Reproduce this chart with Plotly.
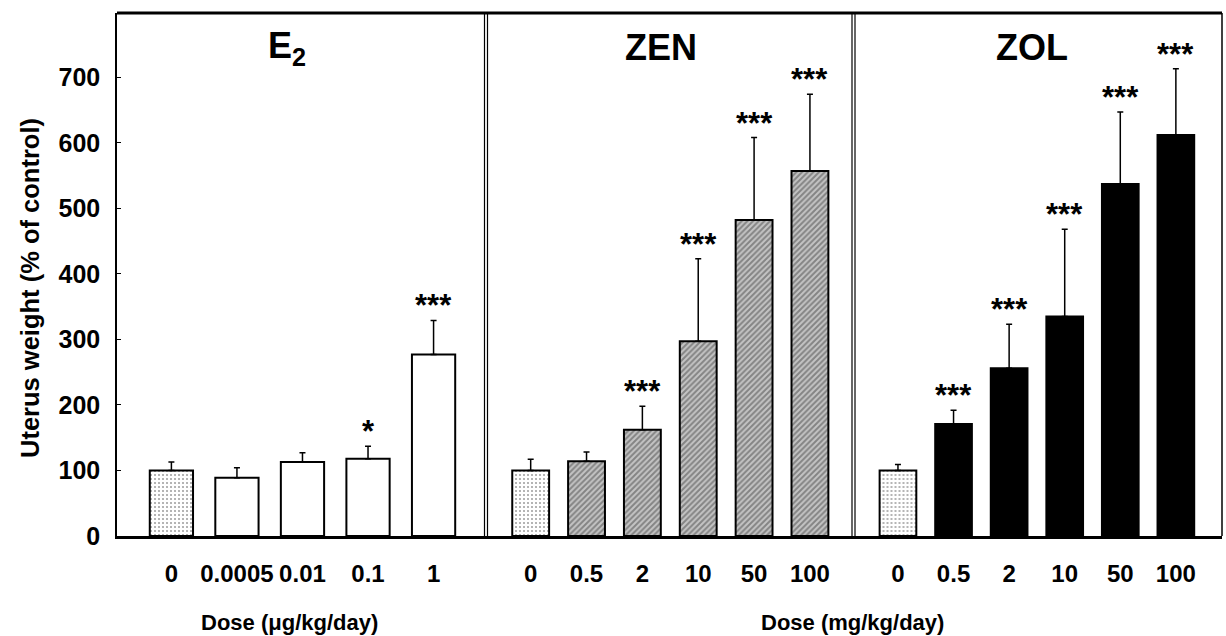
import plotly.graph_objects as go

# ---------------- data ----------------
E2_doses = ["0", "0.0005", "0.01", "0.1", "1"]
E2_mean = [100, 89, 113, 118, 277]
E2_err = [13, 15, 14, 19, 52]
E2_sig = ["", "", "", "*", "***"]

ZEN_doses = ["0", "0.5", "2", "10", "50", "100"]
ZEN_mean = [100, 114, 162, 297, 482, 557]
ZEN_err = [17, 14, 36, 126, 126, 117]
ZEN_sig = ["", "", "***", "***", "***", "***"]

ZOL_doses = ["0", "0.5", "2", "10", "50", "100"]
ZOL_mean = [100, 171, 256, 335, 537, 612]
ZOL_err = [9, 21, 67, 133, 110, 101]
ZOL_sig = ["", "***", "***", "***", "***", "***"]

panel_titles = ["E<sub>2</sub>", "ZEN", "ZOL"]
y_ticks = [0, 100, 200, 300, 400, 500, 600, 700]
y_title = "Uterus weight (% of control)"
x_title_e2 = "Dose (\u03bcg/kg/day)"
x_title_z = "Dose (mg/kg/day)"

# ---------------- layout geometry ----------------
W, H = 1226, 636
ML, MR, MT, MB = 117, 4, 13, 100
PW, PH = W - ML - MR, H - MT - MB


def px_x(p):
    return (p - ML) / PW


def px_y(p):
    return (H - MB - p) / PH


FONT = "Liberation Sans, Arial, sans-serif"
d1 = px_x(486)
d2 = px_x(853.5)

panels = [
    dict(doses=E2_doses, mean=E2_mean, err=E2_err, sig=E2_sig, color="white",
         shape="", sol=0.5, rng=[-0.83, 4.8], dom=[0, d1]),
    dict(doses=ZEN_doses, mean=ZEN_mean, err=ZEN_err, sig=ZEN_sig, color="#c4c4c4",
         shape="/", sol=0.5, rng=[-0.8, 5.78], dom=[d1, d2]),
    dict(doses=ZOL_doses, mean=ZOL_mean, err=ZOL_err, sig=ZOL_sig, color="black",
         shape="", sol=0.5, rng=[-0.8, 5.83], dom=[d2, 1]),
]

fig = go.Figure()
annotations = []

for k, p in enumerate(panels):
    n = "" if k == 0 else str(k + 1)
    nb = len(p["doses"])
    colors = ["white"] + [p["color"]] * (nb - 1)
    shapes = ["."] + [p["shape"]] * (nb - 1)
    sols = [0.22] + [p["sol"]] * (nb - 1)
    fig.add_trace(go.Bar(
        x=p["doses"], y=p["mean"],
        xaxis="x" + n, yaxis="y" + n,
        width=0.66,
        marker=dict(
            color=colors,
            line=dict(color="black", width=2),
            pattern=dict(shape=shapes, fgcolor="black", bgcolor=colors,
                         size=4, solidity=sols, fillmode="overlay"),
        ),
        error_y=dict(type="data", symmetric=False, array=p["err"],
                     arrayminus=[0] * nb, color="black", thickness=1.5, width=3),
        showlegend=False,
        hoverinfo="skip",
    ))
    for i, (m, e, s) in enumerate(zip(p["mean"], p["err"], p["sig"])):
        if s:
            annotations.append(dict(
                x=i, y=m + e, xref="x" + n, yref="y", text=s, showarrow=False,
                yanchor="bottom", yshift=-5,
                font=dict(family=FONT, size=31, color="black", weight="bold"),
            ))

xaxis_common = dict(
    type="category", showline=True, linewidth=3, linecolor="black",
    ticks="", showgrid=False, zeroline=False, fixedrange=True,
    tickfont=dict(family=FONT, size=24, color="black", weight="bold"),
    ticklabelstandoff=14,
)

layout = dict(
    width=W, height=H,
    margin=dict(l=ML, r=MR, t=MT, b=MB),
    paper_bgcolor="white", plot_bgcolor="white",
    yaxis=dict(range=[0, 798], tickvals=y_ticks, showline=True, linewidth=1.5,
               linecolor="black", ticks="inside", ticklen=4, tickcolor="black",
               showgrid=False, zeroline=False, fixedrange=True,
               tickfont=dict(family=FONT, size=25, color="black", weight="bold"),
               ticklabelstandoff=10),
)
for k, p in enumerate(panels):
    n = "" if k == 0 else str(k + 1)
    layout["xaxis" + n] = dict(xaxis_common, domain=p["dom"], range=p["rng"],
                               anchor="y" + n)
    if k > 0:
        layout["yaxis" + n] = dict(matches="y", range=[0, 798], visible=False,
                                   anchor="x" + n, fixedrange=True)

# panel titles
title_pos = [287, 661, 1032]
for t, xp in zip(panel_titles, title_pos):
    annotations.append(dict(
        x=px_x(xp), y=px_y(48), xref="paper", yref="paper", text=t,
        showarrow=False, xanchor="center", yanchor="middle",
        font=dict(family=FONT, size=36, color="black", weight="bold"),
    ))

# axis titles
annotations.append(dict(
    x=px_x(30), y=px_y(288), xref="paper", yref="paper", text=y_title,
    textangle=-90, showarrow=False, xanchor="center", yanchor="middle",
    font=dict(family=FONT, size=25.5, color="black", weight="bold"),
))
annotations.append(dict(
    x=px_x(289), y=px_y(622), xref="paper", yref="paper", text=x_title_e2,
    showarrow=False, xanchor="center", yanchor="middle",
    font=dict(family=FONT, size=22, color="black", weight="bold"),
))
annotations.append(dict(
    x=px_x(852), y=px_y(622), xref="paper", yref="paper", text=x_title_z,
    showarrow=False, xanchor="center", yanchor="middle",
    font=dict(family=FONT, size=22, color="black", weight="bold"),
))
layout["annotations"] = annotations

# frame: top border, right border, double dividers
shapes = [
    dict(type="line", xref="paper", yref="paper", x0=0, x1=1, y0=1, y1=1,
         line=dict(color="black", width=3)),
    dict(type="line", xref="paper", yref="paper", x0=1, x1=1, y0=0, y1=1,
         line=dict(color="black", width=1.5)),
]
for xp in [484.5, 487.5, 852, 855]:
    shapes.append(dict(type="line", xref="paper", yref="paper",
                       x0=px_x(xp), x1=px_x(xp), y0=0, y1=1,
                       line=dict(color="black", width=1.2)))
layout["shapes"] = shapes

fig.update_layout(layout)
fig.write_html(
    "out.html",
    config={"displayModeBar": False},
    post_script="document.body.style.margin='0px';document.body.style.overflow='hidden';",
)
